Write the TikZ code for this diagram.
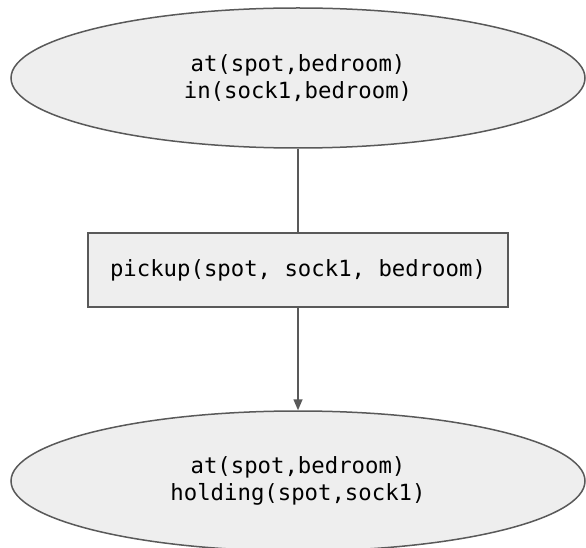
\documentclass[tikz,border=0pt]{standalone}
\usepackage{fontspec}
\setmonofont{DejaVu Sans Mono}
\usetikzlibrary{shapes.geometric,arrows.meta}
\definecolor{boxfill}{HTML}{EEEEEE}
\definecolor{boxline}{HTML}{595959}
\tikzset{
  state/.style={ellipse, draw=boxline, fill=boxfill, line width=1.5pt,
    minimum width=574pt, minimum height=140pt, inner sep=0pt,
    align=center, font=\ttfamily\fontsize{22.3}{27}\selectfont},
  actionbox/.style={rectangle, draw=boxline, fill=boxfill, line width=1.5pt,
    minimum width=420pt, minimum height=74pt, inner sep=0pt,
    font=\ttfamily\fontsize{22.3}{27}\selectfont},
  link/.style={draw=boxline, line width=1.5pt},
}
\begin{document}
\begin{tikzpicture}[x=1pt,y=-1pt]
\useasboundingbox (0,0) rectangle (586,548);
\clip (0,0) rectangle (586,548);
\node[state] (s0) at (298,78) {at(spot,bedroom)\\in(sock1,bedroom)};
\node[actionbox] (a) at (298,270) {pickup(spot, sock1, bedroom)};
\node[state] (s1) at (298,481) {at(spot,bedroom)\\holding(spot,sock1)};
\draw[link] (s0.south) -- (a.north);
\draw[link,-{Triangle[width=9pt,length=11pt]}] (a.south) -- (s1.north);
\end{tikzpicture}
\end{document}
